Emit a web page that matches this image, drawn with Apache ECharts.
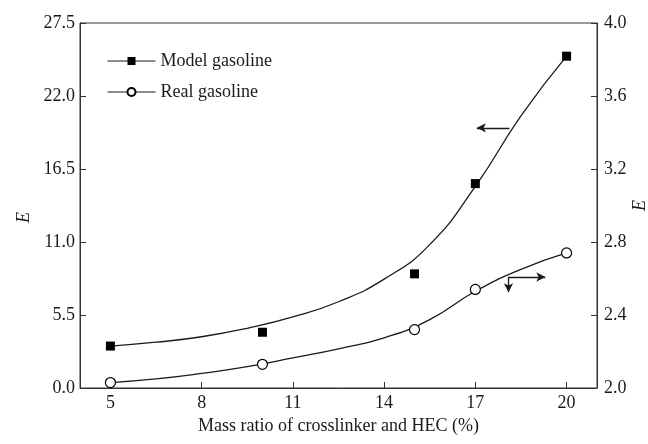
<!DOCTYPE html>
<html>
<head>
<meta charset="utf-8">
<script src="https://cdn.jsdelivr.net/npm/echarts@6/dist/echarts.min.js"></script>
<style>
  html, body { margin: 0; padding: 0; background: #fff; }
  #chart { width: 648px; height: 444px; }
</style>
</head>
<body>
<div id="chart"></div>
<script>
// Measured points
const ratio = [5, 10, 15, 17, 20];
const modelE = [3.16, 4.2, 8.6, 15.4, 25.0];   // left axis
const realE = [2.03, 2.13, 2.32, 2.54, 2.74];   // right axis

// Fitted trend curves
const fitX = [5, 6.5, 8, 9.5, 11, 12.5, 14, 15.5, 17, 18.5, 20];
const modelFit = [3.16, 3.45, 3.86, 4.5, 5.35, 6.5, 8.2, 10.8, 15.2, 20.5, 25.0];
const realFit = [2.03, 2.05, 2.08, 2.117, 2.165, 2.215, 2.275, 2.375, 2.53, 2.65, 2.74];

// Axis ticks
const xTicks = [5, 8, 11, 14, 17, 20];

const pair = (xs, ys) => xs.map((x, i) => [x, ys[i]]);

const ink = '#1a1a1a';
const font = 'Liberation Serif';

const chart = echarts.init(document.getElementById('chart'));
chart.setOption({
  animation: false,
  textStyle: { fontFamily: font },
  grid: {
    left: 80, right: 51, top: 23, bottom: 56,
    outerBoundsMode: 'none',
    containLabel: false,
    show: true, borderColor: '#333', borderWidth: 1
  },
  legend: {
    orient: 'vertical',
    left: 102,
    top: 47,
    itemWidth: 48,
    itemHeight: 10,
    itemGap: 13,
    textStyle: { fontFamily: font, fontSize: 18, color: ink },
    lineStyle: { color: ink, width: 1, opacity: 1 },
    data: ['Model gasoline', 'Real gasoline']
  },
  xAxis: {
    type: 'value',
    min: 4,
    max: 21,
    name: 'Mass ratio of crosslinker and HEC (%)',
    nameLocation: 'middle',
    nameGap: 28,
    nameTextStyle: { fontFamily: font, fontSize: 18, color: ink },
    axisLine: { lineStyle: { color: '#333', width: 1 } },
    axisTick: { inside: true, length: 6, customValues: xTicks, lineStyle: { color: '#333' } },
    axisLabel: { customValues: xTicks, fontFamily: font, fontSize: 18, color: ink, margin: 6 },
    splitLine: { show: false }
  },
  yAxis: [
    {
      type: 'value',
      min: 0,
      max: 27.5,
      interval: 5.5,
      name: 'E',
      nameLocation: 'middle',
      nameRotate: 90,
      nameGap: 47,
      nameMoveOverlap: false,
      nameTextStyle: { fontFamily: font, fontSize: 18, fontStyle: 'italic', color: ink, padding: [0, 24, 0, 0] },
      axisLine: { show: true, lineStyle: { color: '#333', width: 1 } },
      axisTick: { show: true, inside: true, length: 6, lineStyle: { color: '#333' } },
      axisLabel: { fontFamily: font, fontSize: 18, color: ink, margin: 5, formatter: v => v.toFixed(1) },
      splitLine: { show: false }
    },
    {
      type: 'value',
      position: 'right',
      min: 2.0,
      max: 4.0,
      interval: 0.4,
      name: 'E',
      nameLocation: 'middle',
      nameRotate: 90,
      nameGap: 34,
      nameMoveOverlap: false,
      nameTextStyle: { fontFamily: font, fontSize: 18, fontStyle: 'italic', color: ink },
      axisLine: { show: true, lineStyle: { color: '#333', width: 1 } },
      axisTick: { show: true, inside: true, length: 6, lineStyle: { color: '#333' } },
      axisLabel: { fontFamily: font, fontSize: 18, color: ink, margin: 7, formatter: v => v.toFixed(1) },
      splitLine: { show: false }
    }
  ],
  series: [
    {
      name: 'Model gasoline fit',
      type: 'line',
      yAxisIndex: 0,
      data: pair(fitX, modelFit),
      smooth: 0.5,
      showSymbol: false,
      lineStyle: { color: ink, width: 1.3 },
      silent: true,
      markLine: {
        silent: true,
        symbol: ['none', 'arrow'],
        symbolSize: [7, 9],
        label: { show: false },
        lineStyle: { color: ink, width: 1.3, type: 'solid' },
        data: [[{ coord: [18.12, 19.6] }, { coord: [17.05, 19.6] }]]
      }
    },
    {
      name: 'Real gasoline fit',
      type: 'line',
      yAxisIndex: 1,
      data: pair(fitX, realFit),
      smooth: 0.5,
      showSymbol: false,
      lineStyle: { color: ink, width: 1.3 },
      silent: true,
      markLine: {
        silent: true,
        symbol: ['none', 'arrow'],
        symbolSize: [7, 9],
        label: { show: false },
        lineStyle: { color: ink, width: 1.3, type: 'solid' },
        data: [
          [{ coord: [18.09, 2.608] }, { coord: [19.3, 2.608] }],
          [{ coord: [18.09, 2.608] }, { coord: [18.09, 2.525] }]
        ]
      }
    },
    {
      name: 'Model gasoline',
      type: 'line',
      yAxisIndex: 0,
      data: pair(ratio, modelE),
      symbol: 'rect',
      symbolSize: 9,
      itemStyle: { color: '#000' },
      lineStyle: { width: 0, opacity: 0 },
      z: 5
    },
    {
      name: 'Real gasoline',
      type: 'line',
      yAxisIndex: 1,
      data: pair(ratio, realE),
      symbol: 'circle',
      symbolSize: 10,
      itemStyle: { color: '#fff', borderColor: '#000', borderWidth: 1.2 },
      lineStyle: { width: 0, opacity: 0 },
      z: 5
    }
  ]
});
</script>
</body>
</html>
